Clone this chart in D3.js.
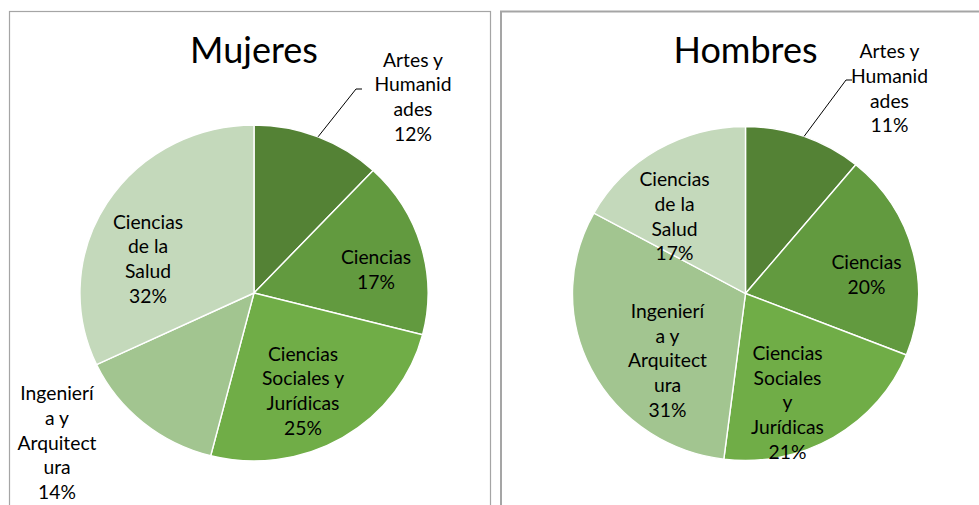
<!DOCTYPE html>
<html>
<head>
<meta charset="utf-8">
<script src="https://cdn.jsdelivr.net/npm/d3@7/dist/d3.min.js"></script>
<style>
  html, body { margin: 0; padding: 0; background: #fff; }
  svg { display: block; }
  text { font-family: Lato, "Open Sans", sans-serif; fill: #000; }
</style>
</head>
<body>
<svg id="chart" width="979" height="505"></svg>
<script>
// Study areas, in drawing order (clockwise from 12 o'clock)
const categories = [
  "Artes y Humanidades",
  "Ciencias",
  "Ciencias Sociales y Jurídicas",
  "Ingeniería y Arquitectura",
  "Ciencias de la Salud"
];

// Share of each area (%)
const mujeresValues = [12, 17, 25, 14, 32];
const hombresValues = [11, 20, 21, 31, 17];

// Wrapped label lines (category part) as shown in each pie
const mujeresLabelLines = [
  ["Artes y", "Humanid", "ades"],
  ["Ciencias"],
  ["Ciencias", "Sociales y", "Jurídicas"],
  ["Ingenierí", "a y", "Arquitect", "ura"],
  ["Ciencias", "de la", "Salud"]
];
const hombresLabelLines = [
  ["Artes y", "Humanid", "ades"],
  ["Ciencias"],
  ["Ciencias", "Sociales", "y", "Jurídicas"],
  ["Ingenierí", "a y", "Arquitect", "ura"],
  ["Ciencias", "de la", "Salud"]
];

const colors = ["#548235", "#629a3f", "#70ad47", "#a2c590", "#c4d9bb"];

// Layout of each panel: frame, pie centre/size and label block offsets from the centre
const panels = [
  {
    title: "Mujeres", values: mujeresValues, lines: mujeresLabelLines,
    frame: { x: 9.5, y: 11.5, w: 481, h: 520, sw: 1.2 },
    cx: 254, cy: 293, r: 168, sx: 1.036, titleY: 63,
    labelOffsets: [[159, -196], [122, -23], [49, 98], [-197, 150], [-106, -34]],
    leaderEnd: [356, 89], leaderTail: 6
  },
  {
    title: "Hombres", values: hombresValues, lines: hombresLabelLines,
    frame: { x: 501, y: 11.5, w: 520, h: 520, sw: 2 },
    cx: 745.5, cy: 293.5, r: 167, sx: 1.036, titleY: 63,
    labelOffsets: [[144, -205], [121, -19], [42, 109], [-78, 67], [-71, -77]],
    leaderEnd: [846, 80], leaderTail: 6
  }
];

const svg = d3.select("#chart");
const lineH = 24.7;
const labelSize = 19.3;

const pie = d3.pie().sort(null).value(d => d);

panels.forEach(p => {
  const g = svg.append("g");

  g.append("rect")
    .attr("x", p.frame.x).attr("y", p.frame.y)
    .attr("width", p.frame.w).attr("height", p.frame.h)
    .attr("fill", "none").attr("stroke", "#a5a5a5").attr("stroke-width", p.frame.sw);

  g.append("text")
    .attr("x", p.cx).attr("y", p.titleY)
    .attr("text-anchor", "middle")
    .style("font-size", "36px")
    .text(p.title);

  const arcs = pie(p.values);
  const arc = d3.arc().innerRadius(0).outerRadius(p.r);

  // slightly wider than tall, as the panels are stretched horizontally
  const pg = g.append("g")
    .attr("transform", `translate(${p.cx},${p.cy}) scale(${p.sx},1)`);

  pg.selectAll("path")
    .data(arcs)
    .join("path")
    .attr("d", arc)
    .attr("fill", (d, i) => colors[i])
    .attr("stroke", "#fff")
    .attr("stroke-width", 1.4)
    .attr("vector-effect", "non-scaling-stroke");

  // leader line for the first slice's outside label
  const a0 = (arcs[0].startAngle + arcs[0].endAngle) / 2;
  const sx0 = p.cx + Math.sin(a0) * p.r * p.sx;
  const sy0 = p.cy - Math.cos(a0) * p.r;
  g.append("polyline")
    .attr("points", [[sx0, sy0], p.leaderEnd, [p.leaderEnd[0] + p.leaderTail, p.leaderEnd[1]]].map(q => q.join(",")).join(" "))
    .attr("fill", "none").attr("stroke", "#000").attr("stroke-width", 1);

  // data labels: wrapped category name plus percentage
  arcs.forEach((d, i) => {
    const lines = p.lines[i].concat([d.value + "%"]);
    const [ox, oy] = p.labelOffsets[i];
    const x = p.cx + ox;
    const y0 = p.cy + oy - (lines.length - 1) * lineH / 2;
    const t = g.append("text")
      .attr("text-anchor", "middle")
      .style("font-size", labelSize + "px");
    lines.forEach((s, k) => {
      t.append("tspan")
        .attr("x", x)
        .attr("y", y0 + k * lineH)
        .attr("dy", "0.35em")
        .text(s);
    });
  });
});
</script>
</body>
</html>
